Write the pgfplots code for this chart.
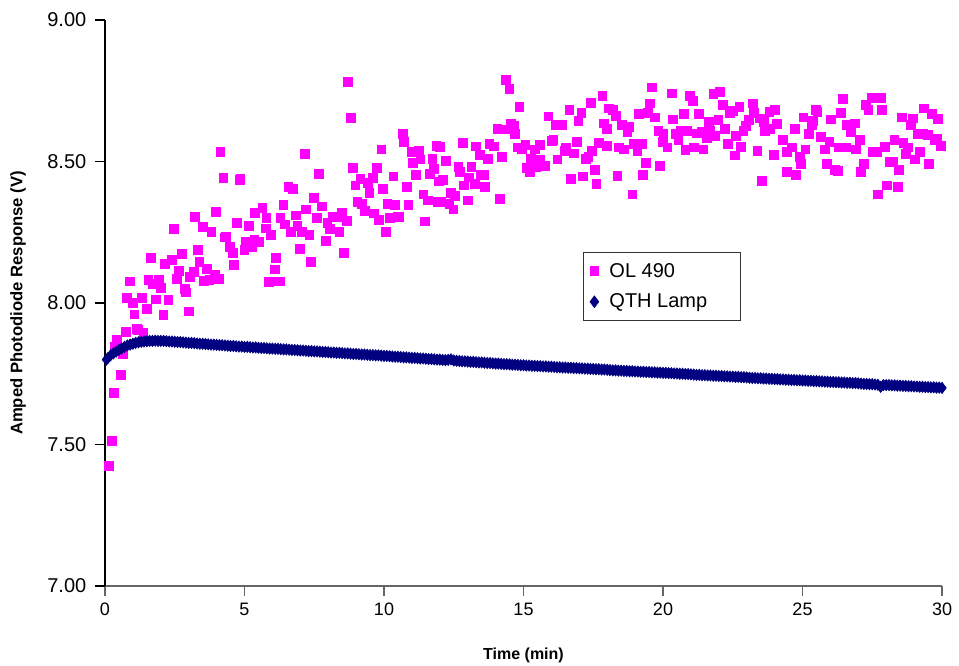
\documentclass[border=0pt]{standalone}
\usepackage{fontspec}
\setmainfont{Liberation Sans}
\usepackage{pgfplots}
\pgfplotsset{compat=1.18}
\definecolor{olpink}{HTML}{FF00FF}
\definecolor{qthnavy}{HTML}{000080}
\begin{document}
\begin{tikzpicture}
\useasboundingbox (-78.75pt,-59.25pt) rectangle (640.5pt,439.5pt);
\begin{axis}[
  scale only axis, width=627.75pt, height=424.5pt,
  at={(0,0)}, anchor=south west,
  xmin=0, xmax=30, ymin=7, ymax=9,
  xtick={0,5,10,15,20,25,30}, ytick={7,7.5,8,8.5,9},
  axis x line*=bottom, axis y line*=left,
  axis line style={-, line width=0.8pt},
  x axis line style={black!60},
  tick align=outside, major tick length=7.5pt,
  tick style={line width=0.8pt, black},
  xtick style={black!60},
  /pgf/number format/assume math mode=true,
  yticklabel={\pgfmathprintnumber[fixed,fixed zerofill,precision=2]{\tick}},
  yticklabel style={font=\fontsize{15}{15}\selectfont, xshift=-3pt},
  xticklabel style={font=\fontsize{13.5}{14}\selectfont, yshift=-2pt},
  xlabel={Time (min)}, ylabel={Amped Photodiode Response (V)},
  xlabel style={font=\bfseries\fontsize{12}{14}\selectfont, at={(axis description cs:0.5,-0.122)}, anchor=center},
  ylabel style={font=\bfseries\fontsize{12.5}{14}\selectfont, at={(axis description cs:-0.104,0.5)}, anchor=center, rotate=0},
  clip=false,
  legend style={at={(axis description cs:0.571,0.590)}, anchor=north west,
    draw=black!80, line width=0.6pt, fill=white,
    font=\fontsize{15}{17}\selectfont, inner xsep=5pt, inner ysep=6pt,
    row sep=7pt, cells={anchor=west}},
  legend image post style={xshift=-2pt},
]
\addplot[only marks, mark=square*, mark size=3.3pt, mark options={draw=olpink, fill=olpink}] table {
x y
0.14 7.424
0.25 7.513
0.30 7.683
0.36 7.846
0.42 7.869
0.57 7.747
0.63 7.822
0.73 7.898
0.78 8.018
0.90 8.077
0.99 8.001
1.05 7.960
1.13 7.909
1.18 7.905
1.33 8.018
1.37 7.895
1.49 7.980
1.55 8.081
1.65 8.161
1.71 8.067
1.82 8.013
1.92 8.081
2.00 8.054
2.09 7.959
2.14 8.140
2.27 8.011
2.40 8.152
2.46 8.263
2.57 8.087
2.64 8.113
2.74 8.173
2.86 8.051
2.90 8.038
3.00 7.971
3.05 8.093
3.18 8.110
3.21 8.305
3.32 8.188
3.38 8.146
3.49 8.269
3.55 8.078
3.64 8.120
3.74 8.081
3.81 8.252
3.93 8.099
3.97 8.322
4.09 8.087
4.13 8.534
4.24 8.442
4.30 8.232
4.34 8.235
4.47 8.199
4.57 8.178
4.62 8.135
4.72 8.284
4.83 8.435
4.85 8.440
4.99 8.187
5.04 8.217
5.16 8.273
5.27 8.199
5.35 8.223
5.38 8.320
5.53 8.217
5.64 8.337
5.76 8.264
5.78 8.300
5.88 8.075
5.95 8.240
6.03 8.077
6.08 8.119
6.13 8.161
6.25 8.077
6.28 8.300
6.39 8.347
6.45 8.278
6.57 8.410
6.67 8.251
6.73 8.405
6.83 8.310
6.89 8.273
6.99 8.193
7.05 8.253
7.16 8.528
7.20 8.331
7.32 8.240
7.37 8.145
7.48 8.373
7.59 8.300
7.65 8.458
7.77 8.342
7.91 8.219
7.97 8.284
8.06 8.261
8.16 8.305
8.30 8.305
8.40 8.252
8.49 8.320
8.55 8.178
8.67 8.290
8.71 8.783
8.82 8.655
8.88 8.479
8.97 8.416
9.04 8.358
9.15 8.439
9.19 8.350
9.31 8.326
9.41 8.425
9.47 8.390
9.59 8.443
9.64 8.317
9.74 8.479
9.80 8.293
9.90 8.543
9.95 8.405
10.06 8.252
10.12 8.352
10.21 8.300
10.33 8.448
10.40 8.347
10.50 8.305
10.53 8.305
10.66 8.598
10.72 8.571
10.82 8.411
10.87 8.347
10.98 8.534
11.03 8.496
11.14 8.453
11.24 8.538
11.30 8.508
11.41 8.384
11.47 8.289
11.58 8.363
11.64 8.458
11.73 8.511
11.79 8.475
11.87 8.555
11.91 8.358
11.95 8.430
12.01 8.552
12.03 8.358
12.10 8.435
12.22 8.502
12.34 8.352
12.39 8.390
12.48 8.331
12.54 8.378
12.66 8.482
12.72 8.464
12.81 8.565
12.87 8.416
12.99 8.363
13.04 8.444
13.13 8.481
13.25 8.420
13.30 8.554
13.42 8.523
13.47 8.455
13.58 8.452
13.62 8.411
13.73 8.511
13.77 8.564
13.92 8.554
14.06 8.617
14.16 8.369
14.22 8.517
14.33 8.614
14.37 8.788
14.49 8.756
14.54 8.635
14.66 8.628
14.70 8.598
14.80 8.550
14.85 8.693
14.93 8.543
15.06 8.559
15.13 8.479
15.23 8.464
15.25 8.511
15.40 8.543
15.45 8.482
15.57 8.559
15.59 8.508
15.77 8.484
15.89 8.660
16.02 8.573
16.07 8.576
16.16 8.629
16.21 8.508
16.37 8.629
16.49 8.538
16.52 8.550
16.64 8.682
16.69 8.438
16.80 8.529
16.91 8.571
16.96 8.644
17.07 8.672
17.12 8.448
17.24 8.511
17.32 8.517
17.41 8.708
17.45 8.538
17.55 8.470
17.61 8.420
17.71 8.565
17.82 8.731
17.87 8.635
17.98 8.617
17.99 8.555
18.07 8.688
18.20 8.682
18.32 8.661
18.36 8.449
18.40 8.550
18.52 8.629
18.60 8.543
18.72 8.605
18.76 8.623
18.90 8.384
18.96 8.564
19.08 8.538
19.13 8.670
19.23 8.564
19.27 8.452
19.37 8.496
19.44 8.672
19.53 8.706
19.59 8.762
19.71 8.656
19.83 8.609
19.87 8.484
19.99 8.571
20.01 8.597
20.15 8.550
20.30 8.741
20.35 8.649
20.47 8.597
20.55 8.576
20.63 8.609
20.73 8.668
20.80 8.541
20.87 8.609
20.97 8.731
21.06 8.715
21.11 8.550
21.21 8.600
21.27 8.668
21.39 8.605
21.44 8.543
21.56 8.585
21.65 8.641
21.68 8.609
21.80 8.738
21.86 8.590
21.98 8.647
22.02 8.746
22.14 8.700
22.20 8.617
22.31 8.564
22.40 8.672
22.50 8.679
22.57 8.522
22.62 8.590
22.73 8.694
22.78 8.552
22.88 8.609
22.97 8.625
23.06 8.647
23.21 8.706
23.26 8.672
23.38 8.538
23.47 8.653
23.54 8.432
23.62 8.641
23.66 8.609
23.81 8.676
23.83 8.617
23.98 8.523
24.01 8.684
24.07 8.632
24.29 8.576
24.43 8.535
24.45 8.464
24.61 8.550
24.73 8.617
24.77 8.453
24.91 8.517
24.93 8.491
25.03 8.656
25.10 8.543
25.21 8.597
25.33 8.628
25.37 8.644
25.48 8.682
25.53 8.676
25.65 8.588
25.81 8.543
25.87 8.491
25.96 8.571
26.01 8.649
26.16 8.472
26.25 8.467
26.28 8.550
26.38 8.672
26.44 8.723
26.56 8.550
26.58 8.629
26.73 8.605
26.88 8.635
26.92 8.543
27.04 8.576
27.10 8.464
27.20 8.491
27.28 8.700
27.36 8.682
27.48 8.725
27.52 8.535
27.66 8.535
27.70 8.384
27.80 8.725
27.85 8.682
27.96 8.552
28.02 8.416
28.11 8.499
28.25 8.501
28.29 8.576
28.40 8.411
28.45 8.470
28.55 8.656
28.61 8.566
28.71 8.527
28.77 8.550
28.88 8.629
28.94 8.653
29.03 8.508
29.11 8.597
29.21 8.535
29.33 8.597
29.35 8.688
29.48 8.594
29.52 8.491
29.63 8.668
29.72 8.578
29.81 8.581
29.85 8.651
29.95 8.555
};
\addlegendentry{\hspace*{6pt}OL 490}
\addplot[only marks, mark=diamond*, mark size=4.3pt, mark options={draw=qthnavy, fill=qthnavy}] table {
x y
0.05 7.800
0.10 7.805
0.20 7.815
0.30 7.822
0.40 7.828
0.50 7.834
0.60 7.840
0.70 7.845
0.80 7.850
0.90 7.853
1.00 7.856
1.10 7.859
1.20 7.861
1.30 7.863
1.40 7.864
1.50 7.865
1.60 7.866
1.70 7.866
1.80 7.867
1.90 7.866
2.0 7.866
2.1 7.866
2.2 7.865
2.3 7.864
2.4 7.864
2.5 7.863
2.6 7.862
2.7 7.862
2.8 7.861
2.9 7.860
3.0 7.859
3.1 7.859
3.2 7.858
3.3 7.857
3.4 7.856
3.5 7.856
3.6 7.855
3.7 7.854
3.8 7.853
3.9 7.853
4.0 7.852
4.1 7.851
4.2 7.851
4.3 7.850
4.4 7.849
4.5 7.848
4.6 7.848
4.7 7.847
4.8 7.846
4.9 7.846
5.0 7.845
5.1 7.845
5.2 7.844
5.3 7.843
5.4 7.843
5.5 7.842
5.6 7.841
5.7 7.841
5.8 7.840
5.9 7.839
6.0 7.839
6.1 7.838
6.2 7.838
6.3 7.837
6.4 7.836
6.5 7.836
6.6 7.835
6.7 7.834
6.8 7.834
6.9 7.833
7.0 7.832
7.1 7.832
7.2 7.831
7.3 7.830
7.4 7.830
7.5 7.829
7.6 7.829
7.7 7.828
7.8 7.827
7.9 7.827
8.0 7.826
8.1 7.825
8.2 7.825
8.3 7.824
8.4 7.824
8.5 7.823
8.6 7.822
8.7 7.822
8.8 7.821
8.9 7.820
9.0 7.820
9.1 7.819
9.2 7.818
9.3 7.818
9.4 7.817
9.5 7.816
9.6 7.816
9.7 7.815
9.8 7.815
9.9 7.814
10.0 7.813
10.1 7.813
10.2 7.812
10.3 7.811
10.4 7.810
10.5 7.810
10.6 7.809
10.7 7.808
10.8 7.808
10.9 7.807
11.0 7.806
11.1 7.806
11.2 7.805
11.3 7.804
11.4 7.804
11.5 7.803
11.6 7.802
11.7 7.802
11.8 7.801
11.9 7.800
12.0 7.800
12.1 7.799
12.2 7.798
12.3 7.799
12.4 7.801
12.5 7.797
12.6 7.796
12.7 7.795
12.8 7.794
12.9 7.794
13.0 7.793
13.1 7.792
13.2 7.792
13.3 7.791
13.4 7.790
13.5 7.790
13.6 7.789
13.7 7.788
13.8 7.788
13.9 7.787
14.0 7.786
14.1 7.786
14.2 7.785
14.3 7.784
14.4 7.784
14.5 7.783
14.6 7.782
14.7 7.782
14.8 7.781
14.9 7.780
15.0 7.780
15.1 7.779
15.2 7.779
15.3 7.778
15.4 7.778
15.5 7.777
15.6 7.777
15.7 7.776
15.8 7.776
15.9 7.775
16.0 7.775
16.1 7.774
16.2 7.773
16.3 7.773
16.4 7.772
16.5 7.772
16.6 7.771
16.7 7.771
16.8 7.770
16.9 7.770
17.0 7.769
17.1 7.769
17.2 7.768
17.3 7.768
17.4 7.767
17.5 7.767
17.6 7.766
17.7 7.766
17.8 7.765
17.9 7.765
18.0 7.764
18.1 7.763
18.2 7.762
18.3 7.762
18.4 7.761
18.5 7.761
18.6 7.760
18.7 7.760
18.8 7.759
18.9 7.759
19.0 7.758
19.1 7.758
19.2 7.757
19.3 7.757
19.4 7.756
19.5 7.756
19.6 7.755
19.7 7.755
19.8 7.754
19.9 7.754
20.0 7.753
20.1 7.753
20.2 7.752
20.3 7.752
20.4 7.751
20.5 7.751
20.6 7.750
20.7 7.750
20.8 7.749
20.9 7.749
21.0 7.748
21.1 7.747
21.2 7.746
21.3 7.746
21.4 7.745
21.5 7.745
21.6 7.744
21.7 7.744
21.8 7.743
21.9 7.743
22.0 7.742
22.1 7.742
22.2 7.741
22.3 7.741
22.4 7.740
22.5 7.740
22.6 7.739
22.7 7.739
22.8 7.738
22.9 7.738
23.0 7.737
23.1 7.736
23.2 7.735
23.3 7.735
23.4 7.734
23.5 7.734
23.6 7.733
23.7 7.733
23.8 7.732
23.9 7.732
24.0 7.731
24.1 7.731
24.2 7.730
24.3 7.730
24.4 7.729
24.5 7.729
24.6 7.728
24.7 7.728
24.8 7.727
24.9 7.727
25.0 7.726
25.1 7.726
25.2 7.725
25.3 7.725
25.4 7.724
25.5 7.724
25.6 7.723
25.7 7.723
25.8 7.722
25.9 7.722
26.0 7.721
26.1 7.721
26.2 7.720
26.3 7.720
26.4 7.719
26.5 7.719
26.6 7.718
26.7 7.718
26.8 7.717
26.9 7.717
27.0 7.716
27.1 7.715
27.2 7.714
27.3 7.714
27.4 7.713
27.5 7.713
27.6 7.712
27.7 7.711
27.8 7.704
27.9 7.710
28.0 7.710
28.1 7.710
28.2 7.709
28.3 7.709
28.4 7.708
28.5 7.708
28.6 7.707
28.7 7.707
28.8 7.706
28.9 7.706
29.0 7.705
29.1 7.705
29.2 7.704
29.3 7.704
29.4 7.703
29.5 7.703
29.6 7.702
29.7 7.702
29.8 7.701
29.9 7.701
30.0 7.700
};
\addlegendentry{\hspace*{6pt}QTH Lamp\hspace*{18pt}}
\end{axis}
\end{tikzpicture}
\end{document}
